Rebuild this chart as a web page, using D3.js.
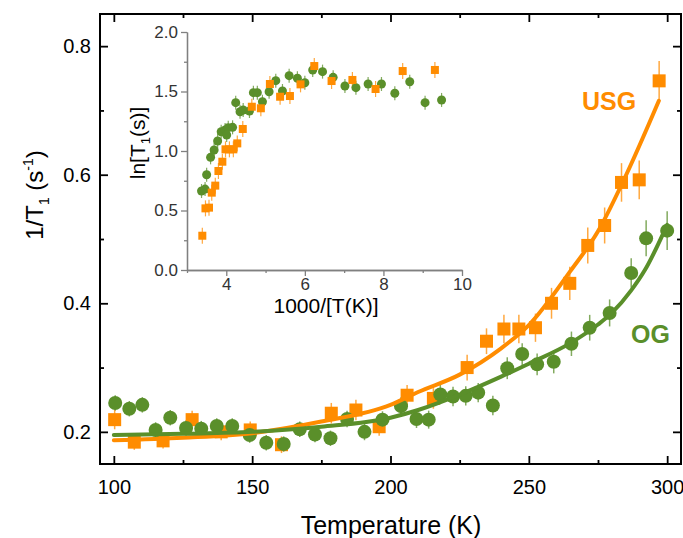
<!DOCTYPE html>
<html><head><meta charset="utf-8">
<script src="https://cdn.jsdelivr.net/npm/d3@7"></script>
<style>body{margin:0;background:#fff}svg{display:block}text{font-family:"Liberation Sans",Arial,sans-serif}</style>
</head><body><svg id="c" width="683" height="538"></svg>
<script>
// ---- main data: USG (orange squares) ----
const usgT = [100.3,107.4,117.8,128.3,138.8,149.3,160.6,178.6,187.5,195.9,206,215.5,227.7,234.7,241,246.4,252.4,258.2,264.8,271.3,277.4,283.5,289.9,297.1];
const usgV = [0.219,0.184,0.186,0.219,0.200,0.203,0.180,0.229,0.234,0.208,0.257,0.252,0.300,0.341,0.360,0.360,0.362,0.400,0.431,0.490,0.521,0.588,0.592,0.746];
const usgErr = [0.015,0.012,0.012,0.014,0.013,0.013,0.013,0.016,0.016,0.014,0.016,0.016,0.02,0.02,0.022,0.022,0.022,0.024,0.026,0.028,0.028,0.03,0.03,0.031];
// ---- main data: OG (green circles) ----
const ogT = [100.5,105.6,110.3,115.1,120.4,126.1,131.6,137.2,142.8,149.1,155.1,161.4,167.2,172.7,178.3,184.3,190.6,197.1,203.8,209.4,213.8,218,222.6,227.2,231.7,237,242.2,247.6,253,259,265.4,272,279.2,287,292.4,300];
const ogV = [0.245,0.236,0.242,0.203,0.222,0.206,0.205,0.209,0.209,0.195,0.183,0.181,0.204,0.196,0.190,0.220,0.200,0.219,0.240,0.220,0.219,0.258,0.255,0.256,0.261,0.241,0.299,0.321,0.305,0.309,0.337,0.362,0.385,0.447,0.501,0.513];
const ogErr = [0.012,0.012,0.012,0.012,0.012,0.012,0.012,0.012,0.012,0.012,0.012,0.012,0.012,0.012,0.012,0.013,0.013,0.013,0.014,0.014,0.014,0.015,0.015,0.015,0.015,0.015,0.017,0.017,0.017,0.018,0.019,0.02,0.021,0.023,0.028,0.03];
// ---- fitted curves ----
const usgFitT = [100,125,150,175,200,210,225,240,250,265,275,285,297];
const usgFitV = [0.187,0.191,0.198,0.216,0.242,0.262,0.289,0.330,0.366,0.450,0.512,0.598,0.715];
const ogFitT = [100,125,150,175,200,210,225,240,250,265,275,280,287,292,300];
const ogFitV = [0.195,0.197,0.200,0.208,0.222,0.234,0.258,0.286,0.306,0.338,0.367,0.385,0.420,0.452,0.522];
// ---- inset data ----
const inOgX = [3.37,3.46,3.5,3.6,3.69,3.78,3.87,3.97,4.05,4.01,4.16,4.24,4.35,4.43,4.59,4.69,4.79,4.92,5.09,5.26,5.43,5.6,5.81,6.0,6.2,6.45,6.72,7.02,7.3,7.61,7.95,8.29,8.67,9.06,9.48];
const inOgY = [0.664,0.68,0.80,0.947,1.008,1.084,1.162,1.176,1.196,1.134,1.199,1.406,1.33,1.345,1.336,1.49,1.49,1.414,1.498,1.591,1.504,1.633,1.611,1.574,1.681,1.667,1.619,1.546,1.532,1.563,1.563,1.485,1.582,1.406,1.429];
const inUsgX = [3.39,3.47,3.56,3.63,3.72,3.8,3.9,3.98,4.08,4.18,4.28,4.42,4.65,4.88,5.11,5.37,5.62,5.89,6.24,6.68,7.21,7.8,8.49,9.31];
const inUsgY = [0.288,0.518,0.524,0.65,0.709,0.832,0.91,1.014,1.014,1.014,1.064,1.185,1.372,1.359,1.563,1.456,1.462,1.56,1.714,1.588,1.597,1.521,1.672,1.681];
// ---- ticks ----
const xMajor = [100,150,200,250,300], xMinor = [125,175,225,275];
const yMajor = [0.2,0.4,0.6,0.8], yMinor = [0.3,0.5,0.7];
const inXMajor = [4,6,8,10], inXMinor = [3,5,7,9];
const inYMajor = [0,0.5,1.0,1.5,2.0], inYMinor = [0.25,0.75,1.25,1.75];

const ORANGE = "#ff8c00", GREEN = "#5a8f2a";
const svg = d3.select("#c");
const L=100, R=681, T=14, B=464;
const x = d3.scaleLinear().domain([95,305]).range([L,R]);
const y = d3.scaleLinear().domain([0.15,0.85]).range([B,T]);

function ax(g, axis){ g.call(axis); g.select(".domain").remove(); g.selectAll("line").attr("stroke","#000").attr("stroke-width",1.8); return g; }
// main axes
ax(svg.append("g").attr("transform",`translate(0,${B})`), d3.axisBottom(x).tickValues(xMajor).tickSize(-8).tickPadding(16).tickFormat(d3.format("d")))
  .selectAll("text").attr("font-size",20).attr("fill","#000");
ax(svg.append("g").attr("transform",`translate(0,${B})`), d3.axisBottom(x).tickValues(xMinor).tickSize(-4).tickFormat(""));
ax(svg.append("g").attr("transform",`translate(0,${T})`), d3.axisTop(x).tickValues(xMajor).tickSize(-8).tickFormat(""));
ax(svg.append("g").attr("transform",`translate(0,${T})`), d3.axisTop(x).tickValues(xMinor).tickSize(-4).tickFormat(""));
ax(svg.append("g").attr("transform",`translate(${L},0)`), d3.axisLeft(y).tickValues(yMajor).tickSize(-8).tickPadding(9).tickFormat(d3.format(".1f")))
  .selectAll("text").attr("font-size",20).attr("fill","#000");
ax(svg.append("g").attr("transform",`translate(${L},0)`), d3.axisLeft(y).tickValues(yMinor).tickSize(-4).tickFormat(""));
ax(svg.append("g").attr("transform",`translate(${R},0)`), d3.axisRight(y).tickValues(yMajor).tickSize(-8).tickFormat(""));
ax(svg.append("g").attr("transform",`translate(${R},0)`), d3.axisRight(y).tickValues(yMinor).tickSize(-4).tickFormat(""));
svg.append("rect").attr("x",L).attr("y",T).attr("width",R-L).attr("height",B-T).attr("fill","none").attr("stroke","#000").attr("stroke-width",2);

// axis titles
svg.append("text").attr("x",391).attr("y",534).attr("text-anchor","middle").attr("font-size",25).text("Temperature (K)");
const yt = svg.append("text").attr("transform","translate(43,195) rotate(-90)").attr("text-anchor","middle").attr("font-size",24);
yt.append("tspan").text("1/T");
yt.append("tspan").attr("dy",6).attr("font-size",14).text("1");
yt.append("tspan").attr("dy",-6).text(" (s");
yt.append("tspan").attr("dy",-10).attr("font-size",14).text("-1");
yt.append("tspan").attr("dy",10).text(")");

// main data
const main = svg.append("g");
const line = d3.line().x(d=>x(d[0])).y(d=>y(d[1])).curve(d3.curveMonotoneX);
function errs(g, X, V, E, color){
  g.selectAll(null).data(X).join("line").attr("x1",(d)=>x(d)).attr("x2",d=>x(d))
   .attr("y1",(d,i)=>y(V[i]-E[i])).attr("y2",(d,i)=>y(V[i]+E[i])).attr("stroke",color).attr("stroke-width",1.5).attr("opacity",0.75);
}
errs(main, ogT, ogV, ogErr, GREEN);
errs(main, usgT, usgV, usgErr, ORANGE);
main.selectAll(null).data(usgT).join("rect").attr("x",d=>x(d)-6.5).attr("y",(d,i)=>y(usgV[i])-6.5).attr("width",13).attr("height",13).attr("fill",ORANGE);
main.selectAll(null).data(ogT).join("circle").attr("cx",d=>x(d)).attr("cy",(d,i)=>y(ogV[i])).attr("r",7).attr("fill",GREEN);
main.append("path").datum(usgFitT.map((t,i)=>[t,usgFitV[i]])).attr("d",line).attr("fill","none").attr("stroke",ORANGE).attr("stroke-width",4).attr("stroke-linecap","round");
main.append("path").datum(ogFitT.map((t,i)=>[t,ogFitV[i]])).attr("d",line).attr("fill","none").attr("stroke",GREEN).attr("stroke-width",4).attr("stroke-linecap","round");
svg.append("text").attr("x",582).attr("y",110).attr("font-size",25).attr("font-weight","bold").attr("fill",ORANGE).text("USG");
svg.append("text").attr("x",631).attr("y",343).attr("font-size",25).attr("font-weight","bold").attr("fill",GREEN).text("OG");

// inset
const iL=187, iR=462, iT=32, iB=270;
const xi = d3.scaleLinear().domain([3,10]).range([iL,iR]);
const yi = d3.scaleLinear().domain([0,2]).range([iB,iT]);
const GREY="#808080";
function iax(g, axis){ g.call(axis); g.select(".domain").attr("stroke",GREY).attr("stroke-width",1.3); g.selectAll("line").attr("stroke",GREY).attr("stroke-width",1.3); g.selectAll("text").attr("font-size",17).attr("fill","#333"); return g; }
iax(svg.append("g").attr("transform",`translate(0,${iB})`), d3.axisBottom(xi).tickValues(inXMajor).tickSize(6).tickSizeOuter(0).tickPadding(2).tickFormat(d3.format("d")));
iax(svg.append("g").attr("transform",`translate(0,${iB})`), d3.axisBottom(xi).tickValues(inXMinor).tickSize(3).tickSizeOuter(0).tickFormat(""));
iax(svg.append("g").attr("transform",`translate(${iL},0)`), d3.axisLeft(yi).tickValues(inYMajor).tickSize(6).tickSizeOuter(0).tickPadding(3).tickFormat(d3.format(".1f")));
iax(svg.append("g").attr("transform",`translate(${iL},0)`), d3.axisLeft(yi).tickValues(inYMinor).tickSize(3).tickSizeOuter(0).tickFormat(""));
svg.append("text").attr("x",326).attr("y",313).attr("text-anchor","middle").attr("font-size",21).text("1000/[T(K)]");
const it = svg.append("text").attr("transform","translate(145,143) rotate(-90)").attr("text-anchor","middle").attr("font-size",21);
it.append("tspan").text("ln[T");
it.append("tspan").attr("dy",5).attr("font-size",13).text("1");
it.append("tspan").attr("dy",-5).text("(s)]");
const ins = svg.append("g");
ins.selectAll(null).data(inOgX).join("line").attr("x1",d=>xi(d)).attr("x2",d=>xi(d)).attr("y1",(d,i)=>yi(inOgY[i])-7).attr("y2",(d,i)=>yi(inOgY[i])+7).attr("stroke",GREEN).attr("stroke-width",1.2).attr("opacity",0.75);
ins.selectAll(null).data(inUsgX).join("line").attr("x1",d=>xi(d)).attr("x2",d=>xi(d)).attr("y1",(d,i)=>yi(inUsgY[i])-8).attr("y2",(d,i)=>yi(inUsgY[i])+8).attr("stroke",ORANGE).attr("stroke-width",1.2).attr("opacity",0.75);
ins.selectAll(null).data(inOgX).join("circle").attr("cx",d=>xi(d)).attr("cy",(d,i)=>yi(inOgY[i])).attr("r",4.5).attr("fill",GREEN);
ins.selectAll(null).data(inUsgX).join("rect").attr("x",d=>xi(d)-4).attr("y",(d,i)=>yi(inUsgY[i])-4).attr("width",8).attr("height",8).attr("fill",ORANGE);
</script></body></html>
